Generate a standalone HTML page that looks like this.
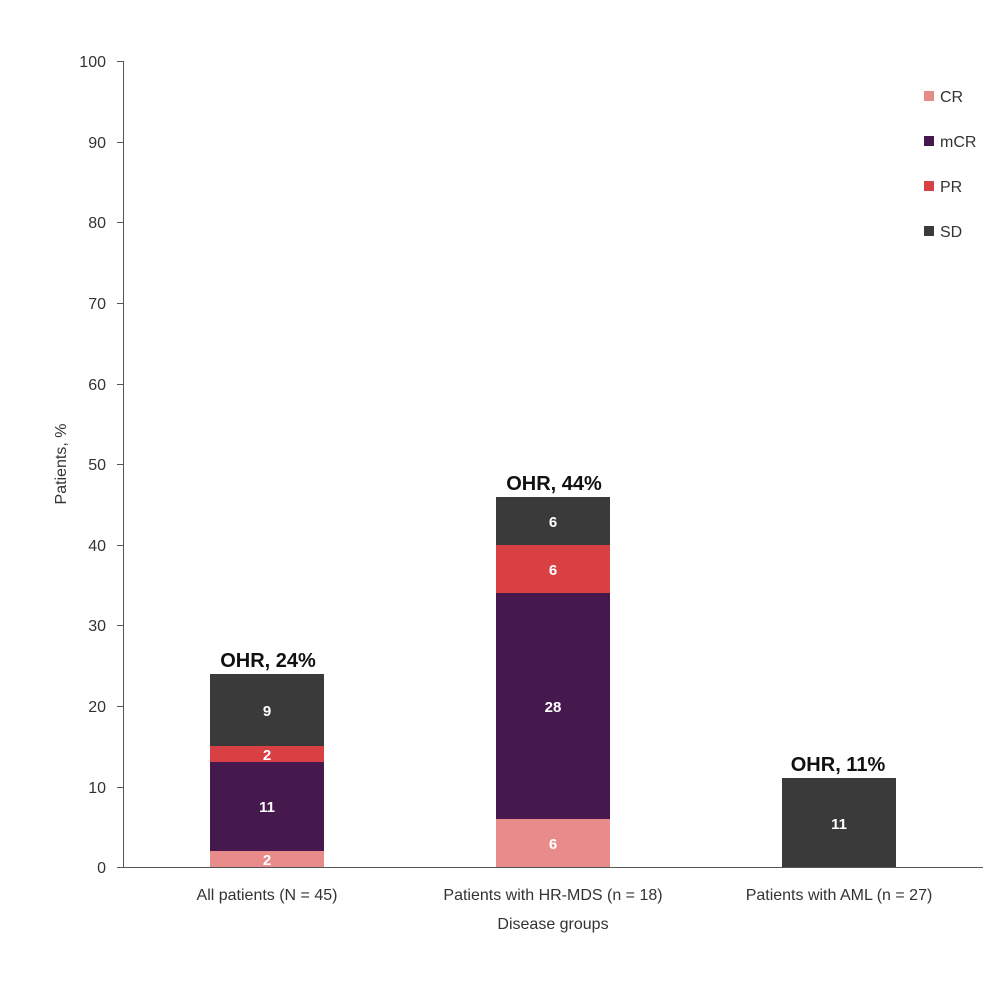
<!DOCTYPE html>
<html><head><meta charset="utf-8"><style>
html,body{margin:0;padding:0;background:#fff;}
svg{display:block;font-family:"Liberation Sans",sans-serif;}
</style></head><body>
<svg width="1000" height="998" viewBox="0 0 1000 998">
<g stroke="#555" stroke-width="1">
<line x1="123.5" y1="61" x2="123.5" y2="868"/>
<line x1="123" y1="867.5" x2="983" y2="867.5"/>
<line x1="117" y1="61.5" x2="123" y2="61.5"/>
<line x1="117" y1="142.5" x2="123" y2="142.5"/>
<line x1="117" y1="222.5" x2="123" y2="222.5"/>
<line x1="117" y1="303.5" x2="123" y2="303.5"/>
<line x1="117" y1="384.5" x2="123" y2="384.5"/>
<line x1="117" y1="464.5" x2="123" y2="464.5"/>
<line x1="117" y1="545.5" x2="123" y2="545.5"/>
<line x1="117" y1="625.5" x2="123" y2="625.5"/>
<line x1="117" y1="706.5" x2="123" y2="706.5"/>
<line x1="117" y1="787.5" x2="123" y2="787.5"/>
<line x1="117" y1="867.5" x2="123" y2="867.5"/>
</g>
<g font-size="16" fill="#333" text-anchor="end">
<text x="106" y="67">100</text><text x="106" y="148">90</text><text x="106" y="228">80</text>
<text x="106" y="309">70</text><text x="106" y="390">60</text><text x="106" y="470">50</text>
<text x="106" y="551">40</text><text x="106" y="631">30</text><text x="106" y="712">20</text>
<text x="106" y="793">10</text><text x="106" y="873">0</text>
</g>
<text transform="translate(66,464) rotate(-90)" font-size="16" fill="#333" text-anchor="middle">Patients, %</text>
<!-- bar1 -->
<rect x="210" y="851" width="114" height="16" fill="#e88b8b"/>
<rect x="210" y="762" width="114" height="89" fill="#45194d"/>
<rect x="210" y="746" width="114" height="16" fill="#d94044"/>
<rect x="210" y="674" width="114" height="72" fill="#3a3a3a"/>
<!-- bar2 -->
<rect x="496" y="819" width="114" height="48" fill="#e88b8b"/>
<rect x="496" y="593" width="114" height="226" fill="#45194d"/>
<rect x="496" y="545" width="114" height="48" fill="#d94044"/>
<rect x="496" y="497" width="114" height="48" fill="#3a3a3a"/>
<!-- bar3 -->
<rect x="782" y="778" width="114" height="89" fill="#3a3a3a"/>
<g font-size="15" font-weight="bold" fill="#fff" text-anchor="middle">
<text x="267" y="865">2</text><text x="267" y="812">11</text><text x="267" y="760">2</text><text x="267" y="716">9</text>
<text x="553" y="849">6</text><text x="553" y="712">28</text><text x="553" y="575">6</text><text x="553" y="527">6</text>
<text x="839" y="829">11</text>
</g>
<g font-size="20" font-weight="bold" fill="#111" text-anchor="middle">
<text x="268" y="667">OHR, 24%</text>
<text x="554" y="490">OHR, 44%</text>
<text x="838" y="771">OHR, 11%</text>
</g>
<g font-size="16" fill="#333" text-anchor="middle">
<text x="267" y="900">All patients (N = 45)</text>
<text x="553" y="900">Patients with HR-MDS (n = 18)</text>
<text x="839" y="900">Patients with AML (n = 27)</text>
<text x="553" y="929">Disease groups</text>
</g>
<rect x="924" y="91" width="10" height="10" fill="#e88b8b"/>
<rect x="924" y="136" width="10" height="10" fill="#45194d"/>
<rect x="924" y="181" width="10" height="10" fill="#d94044"/>
<rect x="924" y="226" width="10" height="10" fill="#3a3a3a"/>
<g font-size="16" fill="#333">
<text x="940" y="102">CR</text><text x="940" y="147">mCR</text><text x="940" y="192">PR</text><text x="940" y="237">SD</text>
</g>
</svg>
</body></html>
